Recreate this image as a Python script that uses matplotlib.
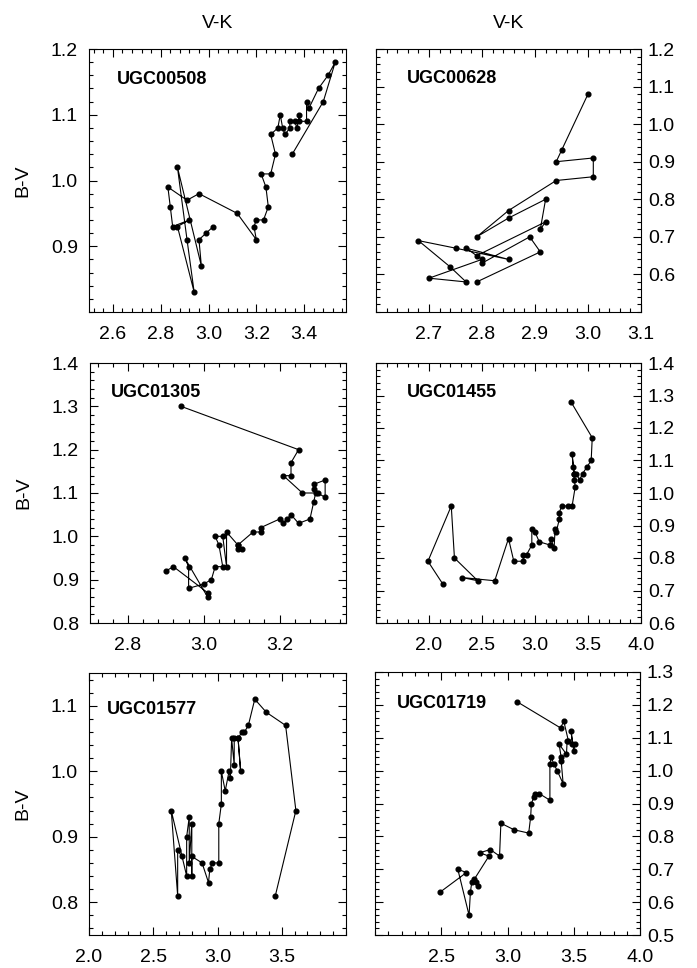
"""
plot.py

B-V versus V-K colour profiles of six UGC galaxies, one panel per galaxy.
"""

import matplotlib.pyplot as plt
from matplotlib.ticker import MultipleLocator, FormatStrFormatter

plt.rcParams['font.family'] = ['Liberation Sans', 'DejaVu Sans']

# colour profiles (V-K, B-V), in the order they are connected
vk_508 = [3.02, 2.99, 2.96, 2.97, 2.87, 2.91, 2.94, 2.87, 2.92, 2.85, 2.84, 2.83, 2.91, 2.96, 3.12,
          3.20, 3.19, 3.20, 3.23, 3.25, 3.24, 3.22, 3.26, 3.28, 3.26, 3.29, 3.30, 3.31, 3.32, 3.34,
          3.34, 3.36, 3.37, 3.38, 3.38, 3.41, 3.41, 3.42, 3.46, 3.50, 3.53, 3.48, 3.35]
bv_508 = [0.93, 0.92, 0.91, 0.87, 1.02, 0.91, 0.83, 0.93, 0.94, 0.93, 0.96, 0.99, 0.97, 0.98, 0.95,
          0.91, 0.93, 0.94, 0.94, 0.96, 0.99, 1.01, 1.01, 1.04, 1.07, 1.08, 1.10, 1.08, 1.07, 1.08,
          1.09, 1.09, 1.08, 1.10, 1.09, 1.09, 1.12, 1.11, 1.14, 1.16, 1.18, 1.12, 1.04]

vk_628 = [3.00, 2.95, 2.94, 3.01, 3.01, 2.94, 2.85, 2.79, 2.85, 2.92, 2.91, 2.92, 2.79, 2.77, 2.85,
          2.75, 2.68, 2.74, 2.77, 2.70, 2.80, 2.80, 2.89, 2.91, 2.79]
bv_628 = [1.08, 0.93, 0.90, 0.91, 0.86, 0.85, 0.77, 0.70, 0.75, 0.80, 0.72, 0.74, 0.65, 0.67, 0.64,
          0.67, 0.69, 0.62, 0.58, 0.59, 0.64, 0.63, 0.70, 0.66, 0.58]

vk_1305 = [2.90, 2.92, 3.01, 3.01, 2.95, 2.96, 2.96, 3.00, 3.02, 3.03, 3.05, 3.04, 3.03, 3.05, 3.06,
           3.06, 3.09, 3.09, 3.10, 3.09, 3.13, 3.15, 3.15, 3.20, 3.21, 3.22, 3.23, 3.25, 3.28, 3.29,
           3.295, 3.29, 3.29, 3.32, 3.32, 3.30, 3.26, 3.21, 3.23, 3.23, 3.25, 2.94]
bv_1305 = [0.92, 0.93, 0.87, 0.86, 0.95, 0.93, 0.88, 0.89, 0.90, 0.93, 0.93, 0.98, 1.00, 1.00, 0.93,
           1.01, 0.98, 0.97, 0.97, 0.98, 1.01, 1.01, 1.02, 1.04, 1.03, 1.04, 1.05, 1.03, 1.04, 1.08,
           1.10, 1.11, 1.12, 1.13, 1.09, 1.10, 1.10, 1.14, 1.14, 1.17, 1.20, 1.30]

vk_1455 = [2.13, 1.99, 2.21, 2.24, 2.46, 2.31, 2.62, 2.75, 2.80, 2.89, 2.89, 2.92, 2.97, 2.97, 3.00,
           3.04, 3.14, 3.15, 3.18, 3.19, 3.20, 3.23, 3.23, 3.25, 3.31, 3.35, 3.38, 3.37, 3.37, 3.35,
           3.36, 3.37, 3.39, 3.42, 3.45, 3.49, 3.53, 3.54, 3.34]
bv_1455 = [0.72, 0.79, 0.96, 0.80, 0.73, 0.74, 0.73, 0.86, 0.79, 0.79, 0.81, 0.81, 0.84, 0.89, 0.88,
           0.85, 0.84, 0.86, 0.83, 0.89, 0.88, 0.92, 0.94, 0.96, 0.96, 0.96, 1.02, 1.04, 1.06, 1.12,
           1.08, 1.06, 1.06, 1.04, 1.06, 1.08, 1.10, 1.17, 1.28]

vk_1577 = [2.72, 2.69, 2.69, 2.64, 2.76, 2.76, 2.78, 2.78, 2.80, 2.80, 2.80, 2.88, 2.93, 2.94, 2.96,
           3.01, 3.01, 3.03, 3.03, 3.06, 3.09, 3.10, 3.11, 3.13, 3.13, 3.16, 3.18, 3.16, 3.19, 3.21,
           3.24, 3.29, 3.38, 3.53, 3.61, 3.45]
bv_1577 = [0.87, 0.88, 0.81, 0.94, 0.84, 0.90, 0.93, 0.86, 0.92, 0.84, 0.87, 0.86, 0.83, 0.85, 0.86,
           0.86, 0.92, 0.95, 1.00, 0.97, 1.00, 0.99, 1.05, 1.01, 1.05, 1.05, 1.00, 1.05, 1.06, 1.06,
           1.07, 1.11, 1.09, 1.07, 0.94, 0.81]

vk_1719 = [2.49, 2.69, 2.625, 2.71, 2.72, 2.73, 2.76, 2.78, 2.75, 2.86, 2.79, 2.87, 2.94, 2.95, 3.05,
           3.16, 3.175, 3.18, 3.20, 3.21, 3.24, 3.32, 3.32, 3.33, 3.35, 3.375, 3.42, 3.405, 3.405, 3.39,
           3.445, 3.45, 3.49, 3.48, 3.50, 3.51, 3.46, 3.425, 3.40, 3.07]
bv_1719 = [0.63, 0.69, 0.70, 0.56, 0.63, 0.66, 0.66, 0.65, 0.67, 0.74, 0.75, 0.76, 0.74, 0.84, 0.82,
           0.81, 0.86, 0.90, 0.92, 0.93, 0.93, 0.91, 1.02, 1.04, 1.02, 1.00, 0.96, 1.03, 1.04, 1.08,
           1.05, 1.09, 1.08, 1.12, 1.06, 1.08, 1.09, 1.15, 1.13, 1.21]

names = ['UGC00508', 'UGC00628', 'UGC01305', 'UGC01455', 'UGC01577', 'UGC01719']
vk_all = [vk_508, vk_628, vk_1305, vk_1455, vk_1577, vk_1719]
bv_all = [bv_508, bv_628, bv_1305, bv_1455, bv_1577, bv_1719]

# axis ranges and tick labels of every panel
xlims = [(2.5, 3.575), (2.6, 3.1), (2.7, 3.375), (1.5, 4.0), (2.0, 4.0), (2.0, 4.0)]
ylims = [(0.8, 1.2), (0.5, 1.2), (0.8, 1.4), (0.6, 1.4), (0.75, 1.15), (0.5, 1.3)]
xticks = [[2.6, 2.8, 3.0, 3.2, 3.4], [2.7, 2.8, 2.9, 3.0, 3.1], [2.8, 3.0, 3.2],
          [2.0, 2.5, 3.0, 3.5, 4.0], [2.0, 2.5, 3.0, 3.5], [2.5, 3.0, 3.5, 4.0]]
yticks = [[0.9, 1.0, 1.1, 1.2], [0.6, 0.7, 0.8, 0.9, 1.0, 1.1, 1.2], [0.8, 0.9, 1.0, 1.1, 1.2, 1.3, 1.4],
          [0.6, 0.7, 0.8, 0.9, 1.0, 1.1, 1.2, 1.3, 1.4], [0.8, 0.9, 1.0, 1.1],
          [0.5, 0.6, 0.7, 0.8, 0.9, 1.0, 1.1, 1.2, 1.3]]
xminor = [0.04, 0.02, 0.04, 0.1, 0.1, 0.1]

# panel boxes in pixels (left, top, right, bottom) on a 697x968 canvas
boxes = [(89, 49, 346, 312), (376, 49, 641, 312),
         (90, 363, 346, 623), (376, 363, 641, 623),
         (89, 673, 346, 935), (375, 672, 640, 935)]
name_pos = [(0.109, 0.867), (0.116, 0.871), (0.082, 0.869), (0.116, 0.870), (0.071, 0.844), (0.082, 0.863)]

W, H = 697, 968
fig = plt.figure(figsize=(W / 100, H / 100), dpi=100)

for i in range(6):
    l, t, r, b = boxes[i]
    ax = fig.add_axes([l / W, 1 - b / H, (r - l) / W, (b - t) / H])
    ax.plot(vk_all[i], bv_all[i], '-', color='k', lw=0.8, marker='o', ms=3.4, mfc='k', mec='k')
    ax.set_xlim(*xlims[i])
    ax.set_ylim(*ylims[i])
    ax.set_xticks(xticks[i])
    ax.set_yticks(yticks[i])
    ax.xaxis.set_minor_locator(MultipleLocator(xminor[i]))
    ax.yaxis.set_minor_locator(MultipleLocator(0.02))
    ax.xaxis.set_major_formatter(FormatStrFormatter('%.1f'))
    ax.yaxis.set_major_formatter(FormatStrFormatter('%.1f'))
    right = (i % 2 == 1)
    ax.tick_params(which='both', direction='in', top=True, right=True, left=True, bottom=True,
                   width=0.8, labelsize=14, labelleft=not right, labelright=right)
    ax.tick_params(which='major', length=6)
    ax.tick_params(which='minor', length=3)
    ax.tick_params(axis='x', pad=10)
    ax.tick_params(axis='y', pad=8 if not right else 5)
    for s in ax.spines.values():
        s.set_linewidth(0.8)
    ax.text(name_pos[i][0], name_pos[i][1], names[i], transform=ax.transAxes,
            fontsize=13, fontweight='bold', ha='left', va='baseline')
    if i < 2:
        ax.text(0.5, 1.08, 'V-K', transform=ax.transAxes, fontsize=14, ha='center', va='baseline')
    if not right:
        ax.text(-0.257, 0.5, 'B-V', transform=ax.transAxes, fontsize=14, rotation=90,
                ha='center', va='center')

plt.savefig('out.png', dpi=100)
